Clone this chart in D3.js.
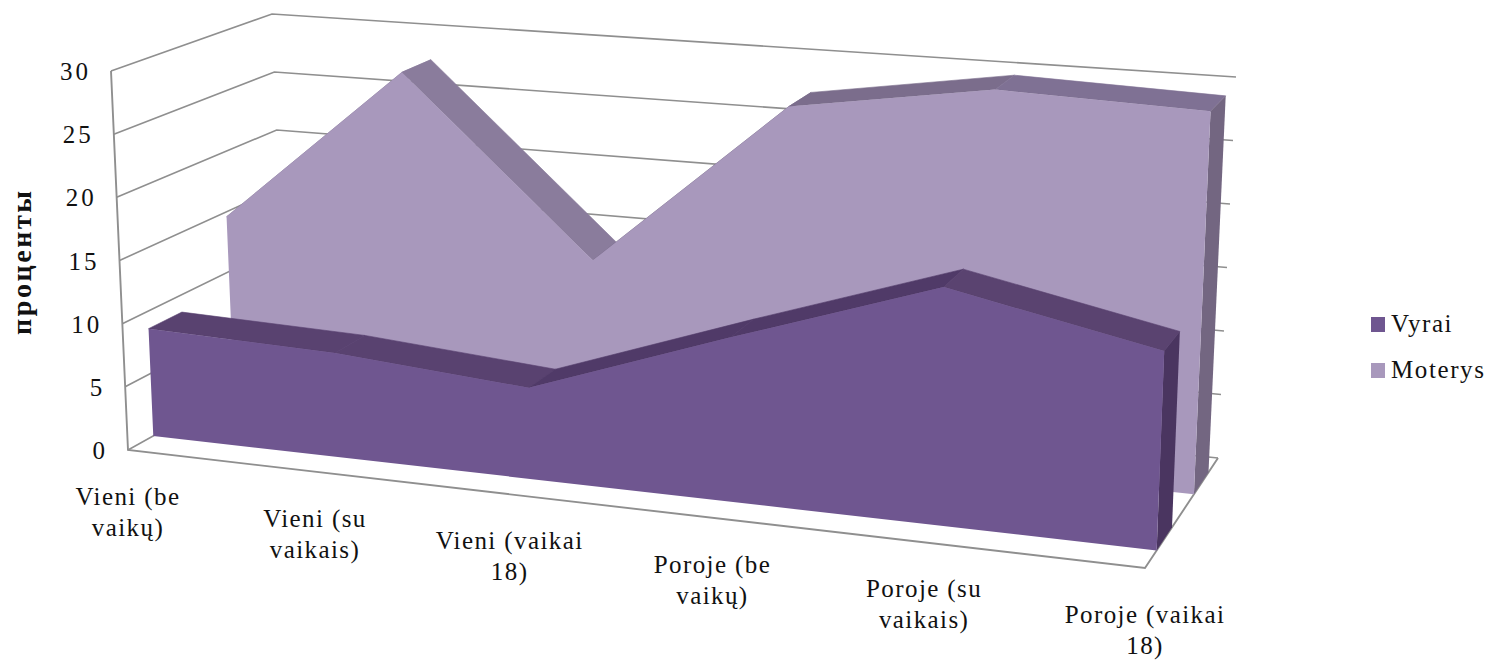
<!DOCTYPE html>
<html><head><meta charset="utf-8">
<script src="https://cdn.jsdelivr.net/npm/d3@7"></script>
<style>html,body{margin:0;padding:0;background:#fff;overflow:hidden}svg{display:block}text{font-family:"Liberation Serif",serif;fill:#111}</style>
</head><body><svg id="c" width="1492" height="663"></svg>
<script>
const categories = [["Vieni (be","vaikų)"],["Vieni (su","vaikais)"],["Vieni (vaikai","18)"],["Poroje (be","vaikų)"],["Poroje (su","vaikais)"],["Poroje (vaikai","18)"]];
const seriesNames = ["Vyrai","Moterys"];
const vyrai = [8.6,8.2,7.05,12.5,17.8,14.6];
const moterys = [14.6,27.8,13.7,27.3,29.8,29.3];
const yTicks = [0,5,10,15,20,25,30];
const axisTitle = "проценты";

const svg = d3.select("#c");
// perspective box: corner pixels
const box = {fl0:[128,450],fl30:[111,71],fr0:[1145,568],fr30:[1160,153],bl0:[286,362],bl30:[272,14],br0:[1218,458],br30:[1236,77]};
const uScale = d3.scaleLinear().domain([0,categories.length-1]).range([0,1]);
const vScale = d3.scaleLinear().domain([0,30]).range([0,1]);
const foreshorten = 1.11;
function P(i,v,d){
  const u0=uScale(i), u=u0/(u0+foreshorten*(1-u0)), t=vScale(v);
  const out=[];
  for(const k of [0,1]){
    const lerp=(a,b,s)=>a+(b-a)*s;
    const f0=lerp(box.fl0[k],box.fr0[k],u), f1=lerp(box.fl30[k],box.fr30[k],u);
    const b0=lerp(box.bl0[k],box.br0[k],u), b1=lerp(box.bl30[k],box.br30[k],u);
    out.push(lerp(lerp(f0,f1,t),lerp(b0,b1,t),d));
  }
  return out;
}
const line=d3.line();
const poly=pts=>line(pts)+"Z";
const idx=d3.range(categories.length);

// grid
const gridColor="#8f8f8f";
yTicks.forEach(v=>{
  svg.append("path").attr("d",line([P(0,v,0),P(0,v,1),P(5,v,1)])).attr("fill","none").attr("stroke",gridColor).attr("stroke-width",1.6);
});
svg.append("path").attr("d",line([P(0,30,0),P(0,0,0),P(5,0,0),P(5,0,1)])).attr("fill","none").attr("stroke",gridColor).attr("stroke-width",1.9);

function drawSeries(vals,d0,d1,front,bands,side){
  idx.slice(0,-1).forEach(i=>{
    svg.append("path").attr("d",poly([P(i,vals[i],d0),P(i+1,vals[i+1],d0),P(i+1,vals[i+1],d1),P(i,vals[i],d1)])).attr("fill",bands[i]).attr("stroke",bands[i]).attr("stroke-width",0.6);
  });
  svg.append("path").attr("d",poly([P(5,vals[5],d0),P(5,vals[5],d1),P(5,0,d1),P(5,0,d0)])).attr("fill",side);
  const top=idx.map(i=>P(i,vals[i],d0));
  svg.append("path").attr("d",poly([...top,P(5,0,d0),P(0,0,d0)])).attr("fill",front);
}
drawSeries(moterys,0.67,0.87,"#a898bc",["#8a7c9c","#8a7c9c","#7b6d8c","#7b6d8c","#7f7194"],"#736681");
drawSeries(vyrai,0.16,0.37,"#6f5690",["#594270","#594270","#503a68","#503a68","#5a4370"],"#4a3560");

// y labels
yTicks.forEach(v=>{
  const p=P(0,v,0);
  svg.append("text").attr("x",p[0]-20).attr("y",p[1]+9).attr("text-anchor","end").attr("font-size",25).style("letter-spacing","3px").text(v);
});
// axis title
svg.append("text").attr("transform","translate(31,335) rotate(-90)").attr("font-size",28).attr("font-weight","bold").style("letter-spacing","2.6px").text(axisTitle);
// category labels
categories.forEach((c,i)=>{
  const p=P(i,0,0);
  c.forEach((s,j)=>{
    svg.append("text").attr("x",p[0]).attr("y",p[1]+55+j*31).attr("text-anchor","middle").attr("font-size",25).style("letter-spacing","1.4px").text(s);
  });
});
// legend
const legendColors=["#6f5690","#a898bc"], legendY=d3.scalePoint().domain(seriesNames).range([332,378]);
seriesNames.forEach((n,i)=>{
  const y=legendY(n);
  svg.append("rect").attr("x",1371).attr("y",y-15).attr("width",14).attr("height",15).attr("fill",legendColors[i]);
  svg.append("text").attr("x",1391).attr("y",y).attr("font-size",25).style("letter-spacing","1.6px").text(n);
});
</script></body></html>
